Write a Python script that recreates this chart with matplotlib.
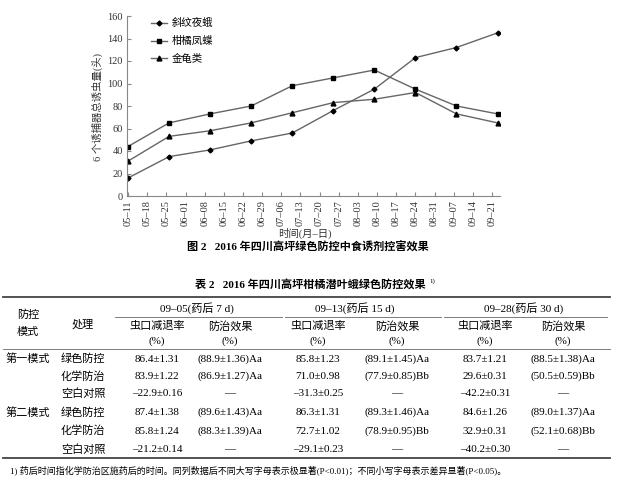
import matplotlib
matplotlib.use("Agg")
import matplotlib.pyplot as plt
import matplotlib.dates as mdates
import pandas as pd

plt.rcParams["font.family"] = ["Liberation Serif", "Noto Sans CJK SC", "DejaVu Sans"]
plt.rcParams["axes.unicode_minus"] = False

# ---- figure 2 data: trap counts per survey date ----
survey_dates = pd.to_datetime([
    "2016-05-11", "2016-05-26", "2016-06-10", "2016-06-25", "2016-07-10",
    "2016-07-25", "2016-08-09", "2016-08-24", "2016-09-08", "2016-09-23",
])
spodoptera = [16, 35, 41, 49, 56, 76, 95, 123, 132, 145]
papilio = [44, 65, 73, 80, 98, 105, 112, 95, 80, 73]
beetles = [31, 53, 58, 65, 74, 83, 86, 92, 73, 65]
series_names = ["斜纹夜蛾", "柑橘凤蝶", "金龟类"]
tick_dates = pd.date_range("2016-05-11", "2016-09-21", freq="7D")

# ---- table 2 data ----
group_heads = ["09–05(药后 7 d)", "09–13(药后 15 d)", "09–28(药后 30 d)"]
modes = ["第一模式", "", "", "第二模式", "", ""]
treatments = ["绿色防控", "化学防治", "空白对照", "绿色防控", "化学防治", "空白对照"]
cells = [
    ["86.4±1.31", "(88.9±1.36)Aa", "85.8±1.23", "(89.1±1.45)Aa", "83.7±1.21", "(88.5±1.38)Aa"],
    ["83.9±1.22", "(86.9±1.27)Aa", "71.0±0.98", "(77.9±0.85)Bb", "29.6±0.31", "(50.5±0.59)Bb"],
    ["–22.9±0.16", "—", "–31.3±0.25", "—", "–42.2±0.31", "—"],
    ["87.4±1.38", "(89.6±1.43)Aa", "86.3±1.31", "(89.3±1.46)Aa", "84.6±1.26", "(89.0±1.37)Aa"],
    ["85.8±1.24", "(88.3±1.39)Aa", "72.7±1.02", "(78.9±0.95)Bb", "32.9±0.31", "(52.1±0.68)Bb"],
    ["–21.2±0.14", "—", "–29.1±0.23", "—", "–40.2±0.30", "—"],
]

W, H = 620, 482
fig = plt.figure(figsize=(6.2, 4.82), dpi=100)

# ---- line chart ----
ax = fig.add_axes([127 / W, 1 - 196 / H, (500 - 127) / W, 180 / H])
for vals, marker, ms, name in zip([spodoptera, papilio, beetles],
                                   ["D", "s", "^"], [2.5, 3.5, 3.5], series_names):
    ax.plot(survey_dates, vals, color="#666666", lw=1.0, marker=marker,
            ms=ms, mfc="black", mec="black", label=name)

ax.set_ylim(0, 160)
ax.set_yticks(range(0, 161, 20))
ax.set_xlim(tick_dates[0] - pd.Timedelta(hours=9), tick_dates[-1] + pd.Timedelta(days=2.9))
ax.set_xticks(tick_dates)
ax.xaxis.set_major_formatter(mdates.DateFormatter("%m–%d"))
ax.tick_params(axis="x", direction="in", rotation=90, labelsize=7.5, length=3,
               color="#888888", pad=3, labelcolor="#333333")
ax.tick_params(axis="y", direction="in", labelsize=7.5, length=3, color="#888888",
               pad=3, labelcolor="#333333")
for s in ["top", "right"]:
    ax.spines[s].set_visible(False)
for s in ["left", "bottom"]:
    ax.spines[s].set_color("#888888")
    ax.spines[s].set_linewidth(0.8)

ax.legend(loc="upper left", bbox_to_anchor=(0.04, 1.04), frameon=False,
          fontsize=7.5, handlelength=1.5, labelspacing=0.75, handletextpad=0.5)

fig.text(97 / W, 1 - 107 / H, "6 个诱捕器总诱虫量(头)", rotation=90,
         ha="center", va="center", fontsize=7.5, color="#333333")
fig.text(305 / W, 1 - 233 / H, "时间(月–日)", ha="center", va="center", fontsize=7.5,
         color="#333333")
fig.text(308 / W, 1 - 247 / H, "图 2   2016 年四川高坪绿色防控中食诱剂控害效果",
         ha="center", va="center", fontsize=8, fontweight="bold")

# ---- table ----
tb = fig.add_axes([0, 0, 1, 1])
tb.set_xlim(0, W)
tb.set_ylim(H, 0)
tb.axis("off")

title = tb.text(310, 284, "表 2   2016 年四川高坪柑橘潜叶蛾绿色防控效果", ha="center",
                va="center", fontsize=8, fontweight="bold")
renderer = fig.canvas.get_renderer()
bb = title.get_window_extent(renderer)
tb.text(bb.x1 + 4, 281, "1)", ha="left", va="center", fontsize=5,
        transform=matplotlib.transforms.blended_transform_factory(
            matplotlib.transforms.IdentityTransform(), tb.transData))

tb.plot([3, 610], [297, 297], color="#444444", lw=1.3)
tb.plot([3, 610], [349, 349], color="#666666", lw=0.6)
tb.plot([3, 610], [458, 458], color="#444444", lw=1.3)
for x0, x1 in [(115, 282), (285, 441), (444, 607)]:
    tb.plot([x0, x1], [317, 317], color="#666666", lw=0.6)

fs = 8
tb.text(28, 315, "防控", ha="center", va="center", fontsize=fs)
tb.text(28, 332, "模式", ha="center", va="center", fontsize=fs)
tb.text(83, 324, "处理", ha="center", va="center", fontsize=fs)

group_x = [197, 355, 524]
col_x = [157, 230, 318, 397, 485, 563]
for gx, head in zip(group_x, group_heads):
    tb.text(gx, 308, head, ha="center", va="center", fontsize=fs)
for i, cx in enumerate(col_x):
    tb.text(cx, 326, "虫口减退率" if i % 2 == 0 else "防治效果",
            ha="center", va="center", fontsize=fs)
    tb.text(cx, 341, "(%)", ha="center", va="center", fontsize=fs)

row_y = [359, 376.5, 394, 412.5, 431, 449.5]
for ry, mode, treat, row in zip(row_y, modes, treatments, cells):
    if mode:
        tb.text(28, ry, mode, ha="center", va="center", fontsize=fs)
    tb.text(83, ry, treat, ha="center", va="center", fontsize=fs)
    for cx, val in zip(col_x, row):
        tb.text(cx, ry, val, ha="center", va="center", fontsize=fs)

tb.text(10, 470, "1) 药后时间指化学防治区施药后的时间。同列数据后不同大写字母表示极显著(P<0.01)；"
        "不同小写字母表示差异显著(P<0.05)。", ha="left", va="center", fontsize=6.5)

fig.savefig("out.png", dpi=100)
